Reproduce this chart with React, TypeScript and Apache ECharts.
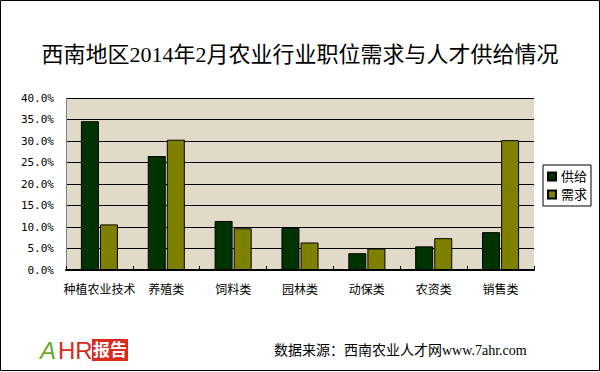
import React, { useEffect, useRef } from "react";
import * as echarts from "echarts";

const titleText = "西南地区2014年2月农业行业职位需求与人才供给情况";
const categories = ["种植农业技术", "养殖类", "饲料类", "园林类", "动保类", "农资类", "销售类"];
const supplyName = "供给";
const demandName = "需求";
const supplyValues = [0.346, 0.265, 0.114, 0.098, 0.039, 0.055, 0.088];
const demandValues = [0.106, 0.303, 0.097, 0.064, 0.050, 0.074, 0.302];
const sourceText = "数据来源：西南农业人才网www.7ahr.com";

const CJK = "'Liberation Serif', 'Noto Sans CJK SC', serif";

export default function App() {
  const ref = useRef<HTMLDivElement>(null);
  useEffect(() => {
    if (!ref.current) return;
    const chart = echarts.init(ref.current, null, { renderer: "svg" });
    chart.setOption({
      animation: false,
      backgroundColor: "#ffffff",
      title: {
        text: titleText,
        left: "center",
        top: 38,
        textStyle: { fontFamily: CJK, fontSize: 22, fontWeight: "normal", color: "#000" },
      },
      legend: {
        orient: "vertical",
        left: 543,
        top: 165,
        itemWidth: 8,
        itemHeight: 8,
        itemGap: 5,
        padding: [5, 4, 5, 4],
        borderColor: "#000",
        borderWidth: 1,
        backgroundColor: "#fff",
        textStyle: { fontFamily: CJK, fontSize: 13, color: "#000" },
        data: [
          { name: supplyName, icon: "rect" },
          { name: demandName, icon: "rect" },
        ],
      },
      grid: { left: 66, right: 66, top: 98, bottom: 102 },
      xAxis: {
        type: "category",
        data: categories,
        axisLine: { lineStyle: { color: "#000", width: 2 } },
        axisTick: { show: true, inside: true, length: 4, lineStyle: { color: "#000" } },
        axisLabel: { fontFamily: CJK, fontSize: 12, color: "#000", margin: 14, interval: 0 },
      },
      yAxis: {
        type: "value",
        min: 0,
        max: 0.4,
        interval: 0.05,
        axisLine: { show: true, lineStyle: { color: "#808080", width: 1 } },
        axisTick: { show: false },
        splitLine: { lineStyle: { color: "#000", width: 1 } },
        splitArea: { show: true, areaStyle: { color: ["#e2dac8", "#e2dac8"] } },
        axisLabel: {
          fontFamily: "'DejaVu Sans Mono', monospace",
          fontSize: 11,
          color: "#000",
          margin: 12,
          formatter: (v: number) => (v * 100).toFixed(1) + "%",
        },
      },
      series: [
        {
          name: supplyName,
          type: "bar",
          data: supplyValues,
          barWidth: 18,
          barGap: "6%",
          itemStyle: { color: "#003300", borderColor: "#000", borderWidth: 1 },
        },
        {
          name: demandName,
          type: "bar",
          data: demandValues,
          barWidth: 18,
          itemStyle: { color: "#808000", borderColor: "#000", borderWidth: 1 },
        },
      ],
      graphic: [
        {
          type: "rect",
          shape: { x: 0.5, y: 0.5, width: 599, height: 370 },
          style: { fill: "none", stroke: "#000", lineWidth: 1 },
          silent: true,
        },
        {
          type: "text",
          left: 274,
          top: 343,
          style: { text: sourceText, fontFamily: CJK, fontSize: 14, fill: "#000" },
        },
        {
          type: "text",
          left: 40,
          top: 338,
          style: {
            text: "A",
            fontFamily: "'Liberation Sans', sans-serif",
            fontSize: 24,
            fontStyle: "italic",
            fill: "#6aaa2a",
          },
        },
        {
          type: "text",
          left: 58,
          top: 338,
          style: {
            text: "HR",
            fontFamily: "'Liberation Sans', sans-serif",
            fontSize: 24,
            fill: "#d92a1c",
          },
        },
        {
          type: "rect",
          shape: { x: 92, y: 339, width: 36, height: 22 },
          style: { fill: "#d92a1c" },
        },
        {
          type: "text",
          left: 93,
          top: 340,
          style: {
            text: "报告",
            fontFamily: "'Noto Sans CJK SC'",
            fontSize: 17,
            fontWeight: "bold",
            fill: "#fff",
          },
        },
      ],
    });
    return () => chart.dispose();
  }, []);
  return (
    <div
      ref={ref}
      style={{ position: "absolute", left: 0, top: 0, width: 600, height: 372 }}
    />
  );
}
